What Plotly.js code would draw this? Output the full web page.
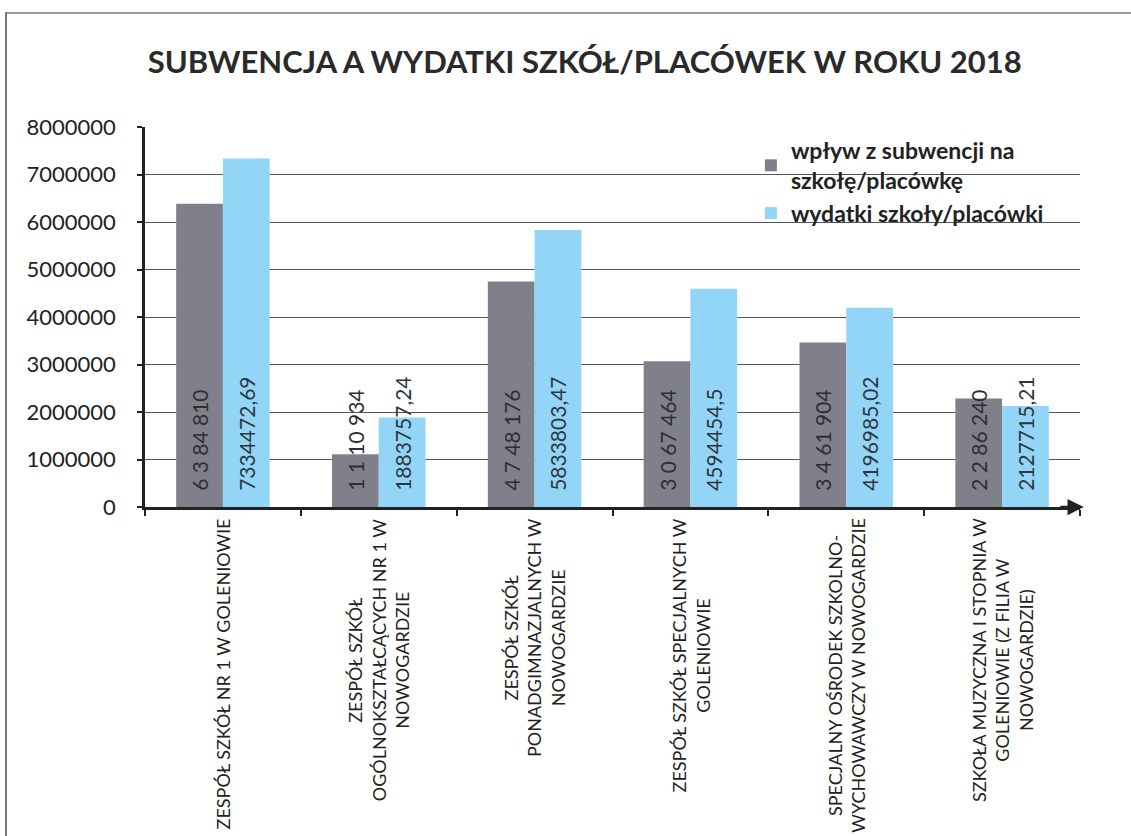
<!DOCTYPE html>
<html lang="pl">
<head>
    <meta charset="UTF-8">
    <style>
        html, body, #plot {
            height: 100%;
            width: 100%;
            margin: 0;
            padding: 0;
            overflow: hidden;
            background: #fff;
        }
        /* scanned page frame, only the top and left edges are visible */
        .edge {
            position: absolute;
            pointer-events: none;
        }
        #edge-top {
            left: 5px;
            top: 12px;
            width: 1126px;
            height: 0;
            border-top: 2px solid #9a9a9a;
        }
        #edge-left {
            left: 5px;
            top: 12px;
            width: 0;
            height: 824px;
            border-left: 2px solid #7a7a7a;
        }
    </style>
</head>
<body>
<div id="plot"></div>
<div class="edge" id="edge-top"></div>
<div class="edge" id="edge-left"></div>
<script src="https://cdn.plot.ly/plotly-3.0.1.min.js"></script>
<script>
    const categories = [
        'ZESPÓŁ SZKÓŁ NR 1 W GOLENIOWIE',
        'ZESPÓŁ SZKÓŁ<br>OGÓLNOKSZTAŁCĄCYCH NR 1 W<br>NOWOGARDZIE',
        'ZESPÓŁ SZKÓŁ<br>PONADGIMNAZJALNYCH W<br>NOWOGARDZIE',
        'ZESPÓŁ SZKÓŁ SPECJALNYCH W<br>GOLENIOWIE',
        'SPECJALNY OŚRODEK SZKOLNO-<br>WYCHOWAWCZY W NOWOGARDZIE',
        'SZKOŁA MUZYCZNA I STOPNIA W<br>GOLENIOWIE (Z FILIA W<br>NOWOGARDZIE)'
    ];
    const subwencja = [6384810, 1110934, 4748176, 3067464, 3461904, 2286240];
    const subwencjaLabels = ['6 3 84 810', '1 1 10 934', '4 7 48 176', '3 0 67 464', '3 4 61 904', '2 2 86 240'];
    const wydatki = [7334472.69, 1883757.24, 5833803.47, 4594454.5, 4196985.02, 2127715.21];
    const wydatkiLabels = ['7334472,69', '1883757,24', '5833803,47', '4594454,5', '4196985,02', '2127715,21'];

    const font = 'Lato, "Open Sans", sans-serif';

    const trace1 = {
        x: categories,
        y: subwencja,
        type: 'bar',
        name: 'wpływ z subwencji na<br>szkołę/placówkę',
        marker: {color: '#80808b'},
        text: subwencjaLabels,
        texttemplate: '\u2002\u2009%{text}',   // small lift off the axis like the original
        textposition: 'inside',
        insidetextanchor: 'start',
        textangle: -90,
        constraintext: 'none',
        textfont: {family: font, size: 21, color: '#2e2e33'},
        hoverinfo: 'y'
    };

    const trace2 = {
        x: categories,
        y: wydatki,
        type: 'bar',
        name: 'wydatki szkoły/placówki',
        marker: {color: '#93d5f7'},
        text: wydatkiLabels,
        texttemplate: '\u2002\u2009%{text}',
        textposition: 'inside',
        insidetextanchor: 'start',
        textangle: -90,
        constraintext: 'none',
        textfont: {family: font, size: 21, color: '#2e3540'},
        hoverinfo: 'y'
    };

    // category names drawn as centred, rotated labels under each group
    const categoryLabels = categories.map(c => ({
        x: c,
        xref: 'x',
        y: 0,
        yref: 'paper',
        yshift: -9,
        yanchor: 'top',
        xanchor: 'center',
        textangle: -90,
        align: 'center',
        text: c,
        showarrow: false,
        font: {family: font, size: 18, color: '#222'}
    }));

    const layout = {
        width: 1131,
        height: 836,
        margin: {l: 145, r: 51, t: 127, b: 329, pad: 0},
        paper_bgcolor: '#ffffff',
        plot_bgcolor: '#ffffff',
        title: {
            text: '<b>SUBWENCJA A WYDATKI SZKÓŁ/PLACÓWEK W ROKU 2018</b>',
            font: {family: font, size: 31, color: '#2a2a2a'},
            x: 0.517,
            xanchor: 'center',
            y: 0.926,
            yanchor: 'middle'
        },
        bargap: 0.4,
        bargroupgap: 0,
        xaxis: {
            type: 'category',
            showticklabels: false,
            showline: true,
            linecolor: '#222',
            linewidth: 2.5,
            ticks: 'outside',
            tickson: 'boundaries',
            ticklen: 6,
            tickwidth: 2,
            tickcolor: '#222',
            showgrid: false
        },
        yaxis: {
            range: [0, 8000000],
            dtick: 1000000,
            tickformat: 'd',
            showline: true,
            linecolor: '#222',
            linewidth: 2.5,
            ticks: 'outside',
            ticklen: 5,
            tickwidth: 2,
            tickcolor: '#222',
            ticklabelstandoff: 17,
            showgrid: true,
            gridcolor: '#555',
            gridwidth: 1,
            zeroline: false,
            tickfont: {family: font, size: 22, color: '#222'}
        },
        showlegend: true,
        legend: {
            x: 0.648,
            y: 0.995,
            xanchor: 'left',
            yanchor: 'top',
            bgcolor: 'rgba(0,0,0,0)',
            traceorder: 'normal',
            itemwidth: 30,
            tracegroupgap: 0,
            font: {family: font, size: 23, color: '#222', weight: 'bold'}
        },
        annotations: [
            // arrow heads on the axes
            {
                xref: 'paper', yref: 'y',
                x: 0, y: 8200000,
                ax: 0, ay: 25,
                text: '', showarrow: true,
                arrowhead: 2, arrowsize: 1.3, arrowwidth: 2.5, arrowcolor: '#222'
            },
            {
                xref: 'paper', yref: 'y',
                x: 1.004, y: 0,
                ax: -25, ay: 0,
                text: '', showarrow: true,
                arrowhead: 2, arrowsize: 1.3, arrowwidth: 2.5, arrowcolor: '#222'
            }
        ].concat(categoryLabels)
    };

    const config = {displayModeBar: false};

    Plotly.newPlot('plot', [trace1, trace2], layout, config);
</script>
</body>
</html>
